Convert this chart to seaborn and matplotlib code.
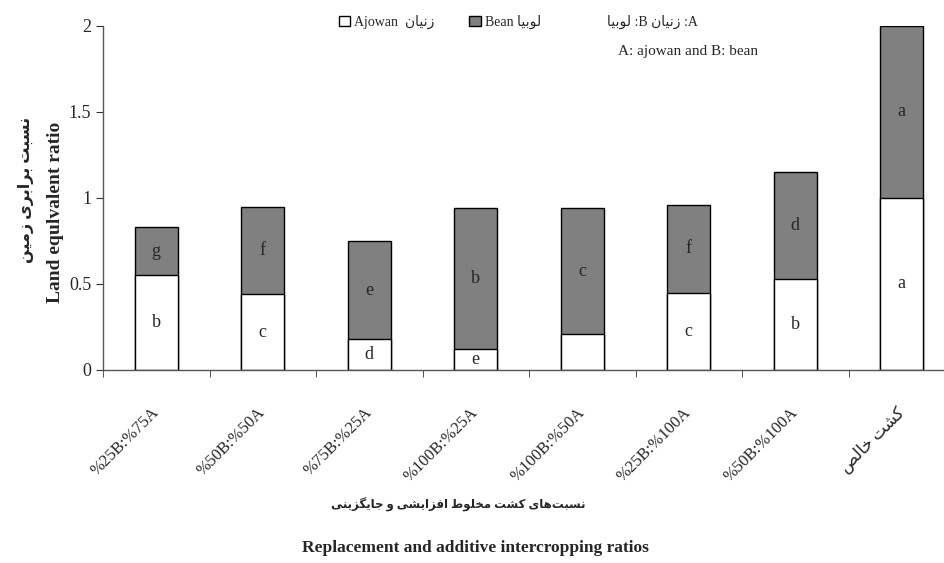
import matplotlib
matplotlib.use("Agg")
import matplotlib.pyplot as plt
import seaborn as sns
import pandas as pd
from matplotlib.patches import Patch

# data
ratios = ["%25B:%75A", "%50B:%50A", "%75B:%25A", "%100B:%25A",
          "%100B:%50A", "%25B:%100A", "%50B:%100A", "کشت خالص"]
ajowan = [0.55, 0.44, 0.18, 0.12, 0.21, 0.45, 0.53, 1.00]
bean = [0.28, 0.51, 0.57, 0.82, 0.73, 0.51, 0.62, 1.00]
ajowan_letters = ["b", "c", "d", "e", "", "c", "b", "a"]
bean_letters = ["g", "f", "e", "b", "c", "f", "d", "a"]

# minimal Persian shaping (matplotlib has no RTL / joining support)
FORMS = {
    "ا": ("\uFE8D", "\uFE8E"), "ز": ("\uFEAF", "\uFEB0"), "و": ("\uFEED", "\uFEEE"),
    "ر": ("\uFEAD", "\uFEAE"),
    "ب": ("\uFE8F", "\uFE90", "\uFE91", "\uFE92"), "ت": ("\uFE95", "\uFE96", "\uFE97", "\uFE98"),
    "ج": ("\uFE9D", "\uFE9E", "\uFE9F", "\uFEA0"), "خ": ("\uFEA5", "\uFEA6", "\uFEA7", "\uFEA8"),
    "س": ("\uFEB1", "\uFEB2", "\uFEB3", "\uFEB4"), "ش": ("\uFEB5", "\uFEB6", "\uFEB7", "\uFEB8"),
    "ص": ("\uFEB9", "\uFEBA", "\uFEBB", "\uFEBC"), "ط": ("\uFEC1", "\uFEC2", "\uFEC3", "\uFEC4"),
    "ف": ("\uFED1", "\uFED2", "\uFED3", "\uFED4"), "ل": ("\uFEDD", "\uFEDE", "\uFEDF", "\uFEE0"),
    "م": ("\uFEE1", "\uFEE2", "\uFEE3", "\uFEE4"), "ن": ("\uFEE5", "\uFEE6", "\uFEE7", "\uFEE8"),
    "ه": ("\uFEE9", "\uFEEA", "\uFEEB", "\uFEEC"), "ی": ("\uFBFC", "\uFBFD", "\uFBFE", "\uFBFF"),
    "ک": ("\uFB8E", "\uFB8F", "\uFB90", "\uFB91"), "گ": ("\uFB92", "\uFB93", "\uFB94", "\uFB95"),
}


def fa(s):
    out = []
    for i, ch in enumerate(s):
        if ch not in FORMS:
            if ch != "\u200c":
                out.append(ch)
            continue
        prev = s[i - 1] if i > 0 else ""
        nxt = s[i + 1] if i + 1 < len(s) else ""
        join_prev = prev in FORMS and len(FORMS[prev]) == 4
        join_next = len(FORMS[ch]) == 4 and nxt in FORMS
        f = FORMS[ch]
        if join_prev and join_next:
            out.append(f[3])
        elif join_prev:
            out.append(f[1])
        elif join_next:
            out.append(f[2])
        else:
            out.append(f[0])
    return "".join(out[::-1])


sns.set_style("ticks")
plt.rcParams["font.family"] = ["Liberation Serif", "DejaVu Sans"]

df = pd.DataFrame({"ratio": ratios, "ajowan": ajowan, "bean": bean})
df["total"] = df["ajowan"] + df["bean"]

fig = plt.figure(figsize=(9.44, 5.63), dpi=100)
ax = fig.add_axes([103 / 944, 1 - 370 / 563, (955 - 103) / 944, (370 - 26) / 563])

sns.barplot(data=df, x="ratio", y="total", color="#808080", saturation=1,
            width=0.4, edgecolor="black", linewidth=1, ax=ax)
sns.barplot(data=df, x="ratio", y="ajowan", color="white", saturation=1,
            width=0.4, edgecolor="black", linewidth=1, ax=ax)

for i in range(len(ratios)):
    ax.text(i, ajowan[i] / 2, ajowan_letters[i], ha="center", va="center", fontsize=13)
    ax.text(i, ajowan[i] + bean[i] / 2, bean_letters[i], ha="center", va="center", fontsize=13)

ax.set_xlim(-0.5, 7.5)
ax.set_ylim(0, 2)
ax.set_yticks([0, 0.5, 1, 1.5, 2])
ax.set_yticklabels(["0", "0.5", "1", "1.5", "2"], fontsize=13)
ax.set_xticks(range(len(ratios)))
labels = [r if i < 7 else fa(r) for i, r in enumerate(ratios)]
ax.set_xticklabels(labels, rotation=45, ha="right", va="center",
                   rotation_mode="anchor", fontsize=12)
ax.tick_params(axis="x", which="major", length=0, pad=29)
ax.set_xticks([i + 0.5 for i in range(-1, 8)], minor=True)
ax.tick_params(axis="x", which="minor", length=5, direction="out", color="#333333")
ax.tick_params(axis="y", length=5, direction="out", color="#333333")
ax.set_xlabel("")
ax.set_ylabel("")
for side in ["top", "right"]:
    ax.spines[side].set_visible(False)
for side in ["left", "bottom"]:
    ax.spines[side].set_color("#555555")
    ax.spines[side].set_linewidth(1)

# legend
handles = [Patch(facecolor="white", edgecolor="black", label="Ajowan  " + fa("زنیان")),
           Patch(facecolor="#808080", edgecolor="black", label="Bean " + fa("لوبیا"))]
fig.legend(handles=handles, loc="center", bbox_to_anchor=(440 / 944, 1 - 22 / 563),
           ncol=2, frameon=False, fontsize=10, handlelength=0.8, handleheight=0.8,
           handletextpad=0.3, columnspacing=2.5)

fig.text(652 / 944, 1 - 22 / 563, fa("لوبیا") + " :B " + fa("زنیان") + " :A",
         ha="center", va="center", fontsize=10)
fig.text(688 / 944, 1 - 51 / 563, "A: ajowan and B: bean", ha="center", va="center", fontsize=11)

# axis titles
fig.text(26 / 944, 1 - 190 / 563, fa("نسبت برابری زمین"), rotation=90,
         ha="center", va="center", fontsize=11.5, fontweight="bold")
fig.text(56 / 944, 1 - 212 / 563, "Land equlvalent ratio", rotation=90,
         ha="center", va="center", fontsize=14, fontweight="bold")
fig.text(458 / 944, 1 - 505 / 563, fa("نسبت‌های کشت مخلوط افزایشی و جایگزینی"),
         ha="center", va="center", fontsize=8.5, fontweight="bold")
fig.text(475 / 944, 1 - 548 / 563, "Replacement and additive intercropping ratios",
         ha="center", va="center", fontsize=12.5, fontweight="bold")

fig.savefig("out.png", dpi=100)
